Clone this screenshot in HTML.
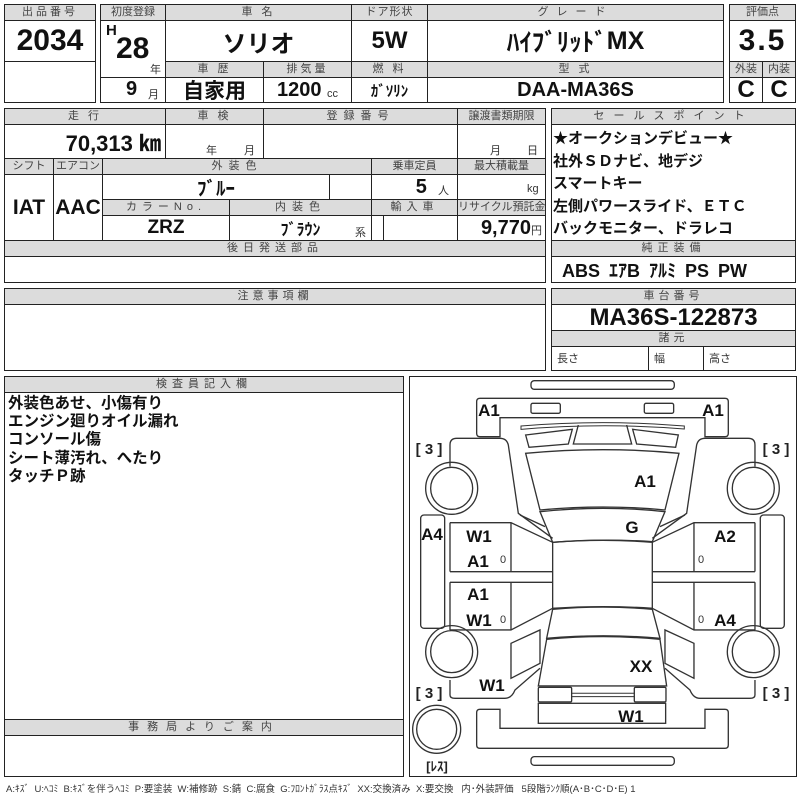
<!DOCTYPE html>
<html><head><meta charset="utf-8"><style>
body{margin:0;width:800px;height:800px;background:#fff;position:relative;overflow:hidden;font-family:"Liberation Sans Narrow","Liberation Sans","Noto Sans CJK JP",sans-serif;}
.c{position:absolute;box-sizing:border-box;border:1px solid #222;}
.h{background:#dcdcdc;color:#444;font-size:11px;text-align:center;line-height:15px;letter-spacing:3px;font-family:"Liberation Sans","Noto Sans CJK JP",sans-serif;white-space:nowrap;overflow:hidden}
.v{display:flex;align-items:center;justify-content:center;font-weight:bold;color:#111;white-space:nowrap}
.t{position:absolute;white-space:nowrap;color:#111}
.s{font-size:11px;font-weight:normal;color:#333;font-family:"Liberation Sans","Noto Sans CJK JP",sans-serif}
.lab{font-family:"Liberation Sans Narrow","Liberation Sans",sans-serif;font-weight:bold;font-size:52px;fill:#111}
</style></head><body>
<!-- block 1 -->
<div class="c h" style="left:4px;top:4px;width:92px;height:17px">出品番号</div>
<div class="c v" style="left:4px;top:20px;width:92px;height:42px;font-size:30px">2034</div>
<div class="c" style="left:4px;top:61px;width:92px;height:42px"></div>
<!-- block 2 -->
<div class="c h" style="left:100px;top:4px;width:66px;height:17px;letter-spacing:0">初度登録</div>
<div class="c" style="left:100px;top:20px;width:66px;height:58px"></div>
<div class="t" style="left:106px;top:22px;font-weight:bold;font-size:15px">H</div>
<div class="t" style="left:116px;top:32px;font-weight:bold;font-size:30px">28</div>
<div class="t s" style="left:150px;top:61px">年</div>
<div class="c" style="left:100px;top:77px;width:66px;height:26px"></div>
<div class="t" style="left:126px;top:78px;font-weight:bold;font-size:20px">9</div>
<div class="t s" style="left:148px;top:86px">月</div>
<div class="c h" style="left:165px;top:4px;width:187px;height:17px">車 名</div>
<div class="c v" style="left:165px;top:20px;width:187px;height:42px;font-size:24px;font-family:'Noto Sans CJK JP',sans-serif">ソリオ</div>
<div class="c h" style="left:165px;top:61px;width:99px;height:17px">車 歴</div>
<div class="c v" style="left:165px;top:77px;width:99px;height:26px;font-size:21px;font-family:'Noto Sans CJK JP',sans-serif">自家用</div>
<div class="c h" style="left:263px;top:61px;width:89px;height:17px">排気量</div>
<div class="c v" style="left:263px;top:77px;width:89px;height:26px;font-size:20px">1200&nbsp;<span class="s" style="margin-top:8px">cc</span></div>
<div class="c h" style="left:351px;top:4px;width:77px;height:17px;letter-spacing:1px">ドア形状</div>
<div class="c v" style="left:351px;top:20px;width:77px;height:42px;font-size:24px">5W</div>
<div class="c h" style="left:351px;top:61px;width:77px;height:17px">燃 料</div>
<div class="c v" style="left:351px;top:77px;width:77px;height:26px;font-size:15px;font-family:'Noto Sans CJK JP',sans-serif">ｶﾞｿﾘﾝ</div>
<div class="c h" style="left:427px;top:4px;width:297px;height:17px;letter-spacing:8px">グレード</div>
<div class="c v" style="left:427px;top:20px;width:297px;height:42px;font-size:25px;font-family:'Noto Sans CJK JP',sans-serif">ﾊｲﾌﾞﾘｯﾄﾞ<span style="font-family:'Liberation Sans Narrow','Liberation Sans',sans-serif">MX</span></div>
<div class="c h" style="left:427px;top:61px;width:297px;height:17px">型 式</div>
<div class="c v" style="left:427px;top:77px;width:297px;height:26px;font-size:20px">DAA-MA36S</div>
<!-- score -->
<div class="c h" style="left:729px;top:4px;width:67px;height:17px;letter-spacing:0">評価点</div>
<div class="c v" style="left:729px;top:20px;width:67px;height:42px;font-size:30px;letter-spacing:2px">3.5</div>
<div class="c h" style="left:729px;top:61px;width:34px;height:17px;letter-spacing:0">外装</div>
<div class="c h" style="left:762px;top:61px;width:34px;height:17px;letter-spacing:0">内装</div>
<div class="c v" style="left:729px;top:77px;width:34px;height:26px;font-size:24px">C</div>
<div class="c v" style="left:762px;top:77px;width:34px;height:26px;font-size:24px">C</div>
<!-- block 3 -->
<div class="c h" style="left:4px;top:108px;width:162px;height:17px">走 行</div>
<div class="c v" style="left:4px;top:124px;width:162px;height:35px;font-size:22px;justify-content:flex-end;padding-right:4px">70,313 ㎞</div>
<div class="c h" style="left:165px;top:108px;width:99px;height:17px">車 検</div>
<div class="c" style="left:165px;top:124px;width:99px;height:35px"></div>
<div class="t s" style="left:206px;top:142px">年</div><div class="t s" style="left:244px;top:142px">月</div>
<div class="c h" style="left:263px;top:108px;width:195px;height:17px;letter-spacing:6px">登録番号</div>
<div class="c" style="left:263px;top:124px;width:195px;height:35px"></div>
<div class="c h" style="left:457px;top:108px;width:89px;height:17px;letter-spacing:0">譲渡書類期限</div>
<div class="c" style="left:457px;top:124px;width:89px;height:35px"></div>
<div class="t s" style="left:490px;top:142px">月</div><div class="t s" style="left:527px;top:142px">日</div>
<div class="c h" style="left:4px;top:158px;width:50px;height:17px;letter-spacing:0">シフト</div>
<div class="c h" style="left:53px;top:158px;width:50px;height:17px;letter-spacing:0">エアコン</div>
<div class="c h" style="left:102px;top:158px;width:270px;height:17px;letter-spacing:6px">外装色</div>
<div class="c h" style="left:371px;top:158px;width:87px;height:17px;letter-spacing:0">乗車定員</div>
<div class="c h" style="left:457px;top:158px;width:89px;height:17px;letter-spacing:0">最大積載量</div>
<div class="c v" style="left:4px;top:174px;width:50px;height:67px;font-size:21px">IAT</div>
<div class="c v" style="left:53px;top:174px;width:50px;height:67px;font-size:21px">AAC</div>
<div class="c v" style="left:102px;top:174px;width:228px;height:26px;font-size:19px;font-family:'Noto Sans CJK JP',sans-serif">ﾌﾞﾙｰ</div>
<div class="c" style="left:329px;top:174px;width:43px;height:26px"></div>
<div class="c v" style="left:371px;top:174px;width:87px;height:26px;font-size:20px;justify-content:flex-end;padding-right:8px">5&nbsp;&nbsp;<span class="s" style="margin-top:6px">人</span></div>
<div class="c" style="left:457px;top:174px;width:89px;height:26px"></div>
<div class="t s" style="left:527px;top:183px">kg</div>
<div class="c h" style="left:102px;top:199px;width:128px;height:17px;letter-spacing:5px">カラーNo.</div>
<div class="c h" style="left:229px;top:199px;width:143px;height:17px;letter-spacing:6px">内装色</div>
<div class="c h" style="left:371px;top:199px;width:87px;height:17px;letter-spacing:5px">輸入車</div>
<div class="c h" style="left:457px;top:199px;width:89px;height:17px;letter-spacing:0">リサイクル預託金</div>
<div class="c v" style="left:102px;top:215px;width:128px;height:26px;font-size:19px">ZRZ</div>
<div class="c v" style="left:229px;top:215px;width:143px;height:26px;font-size:16px;font-family:'Noto Sans CJK JP',sans-serif">ﾌﾞﾗｳﾝ</div>
<div class="t s" style="left:355px;top:224px">系</div>
<div class="c" style="left:371px;top:215px;width:13px;height:26px"></div>
<div class="c" style="left:383px;top:215px;width:75px;height:26px"></div>
<div class="c v" style="left:457px;top:215px;width:89px;height:26px;font-size:20px;justify-content:flex-end;padding-right:3px">9,770<span class="s" style="margin-top:4px">円</span></div>
<div class="c h" style="left:4px;top:240px;width:542px;height:17px;letter-spacing:5px">後日発送部品</div>
<div class="c" style="left:4px;top:256px;width:542px;height:27px"></div>
<!-- sales -->
<div class="c h" style="left:551px;top:108px;width:245px;height:17px;letter-spacing:9px">セールスポイント</div>
<div class="c" style="left:551px;top:124px;width:245px;height:117px;font-family:'Noto Sans CJK JP',sans-serif;font-weight:bold;font-size:15px;line-height:22.5px;padding:2px 0 0 1px;color:#111">★オークションデビュー★<br>社外ＳＤナビ、地デジ<br>スマートキー<br>左側パワースライド、ＥＴＣ<br>バックモニター、ドラレコ</div>
<div class="c h" style="left:551px;top:240px;width:245px;height:17px;letter-spacing:5px">純正装備</div>
<div class="c v" style="left:551px;top:256px;width:245px;height:27px;font-size:18px;justify-content:flex-start;padding-left:10px;word-spacing:4px">ABS ｴｱB ｱﾙﾐ PS PW</div>
<!-- notes -->
<div class="c h" style="left:4px;top:288px;width:542px;height:17px;letter-spacing:4px">注意事項欄</div>
<div class="c" style="left:4px;top:304px;width:542px;height:67px"></div>
<div class="c h" style="left:551px;top:288px;width:245px;height:17px;letter-spacing:4px">車台番号</div>
<div class="c v" style="left:551px;top:304px;width:245px;height:27px;font-size:24px">MA36S-122873</div>
<div class="c h" style="left:551px;top:330px;width:245px;height:17px;letter-spacing:4px">諸元</div>
<div class="c s" style="left:551px;top:346px;width:98px;height:25px;line-height:25px;padding-left:5px">長さ</div>
<div class="c s" style="left:648px;top:346px;width:56px;height:25px;line-height:25px;padding-left:5px">幅</div>
<div class="c s" style="left:703px;top:346px;width:93px;height:25px;line-height:25px;padding-left:5px">高さ</div>
<!-- inspector -->
<div class="c" style="left:4px;top:376px;width:400px;height:401px"></div>
<div class="c h" style="left:4px;top:376px;width:400px;height:17px;letter-spacing:5px">検査員記入欄</div>
<div class="t" style="left:8px;top:393px;font-family:'Noto Sans CJK JP',sans-serif;font-weight:bold;font-size:15.5px;line-height:18.2px">外装色あせ、小傷有り<br>エンジン廻りオイル漏れ<br>コンソール傷<br>シート薄汚れ、へたり<br>タッチＰ跡</div>
<div class="c h" style="left:4px;top:719px;width:400px;height:17px;letter-spacing:8px">事務局よりご案内</div>
<!-- diagram -->
<div class="c" style="left:409px;top:376px;width:388px;height:401px"></div>
<svg style="position:absolute;left:0;top:0" width="800" height="800">
<g transform="translate(405,370) scale(0.3333)" fill="none" stroke="#333" stroke-width="4">
<rect x="378" y="32" width="430" height="26" rx="10"/>
<rect x="378" y="1160" width="430" height="26" rx="10"/>
<path d="M225,85 L960,85 Q970,85 970,95 L970,190 Q970,200 960,200 L900,200 L900,143 L285,143 L285,200 L225,200 Q215,200 215,190 L215,95 Q215,85 225,85 Z"/>
<path d="M225,1018 L285,1018 L285,1075 L900,1075 L900,1018 L960,1018 Q970,1018 970,1028 L970,1125 Q970,1135 960,1135 L225,1135 Q215,1135 215,1125 L215,1028 Q215,1018 225,1018 Z"/>
<rect x="378" y="100" width="88" height="30" rx="5"/>
<rect x="718" y="100" width="88" height="30" rx="5"/>
<path d="M348,168 Q595,148 838,168 L838,177 Q595,157 348,178 Z" stroke-width="3"/>
<path d="M362,195 L502,178 L490,222 L372,232 Z"/>
<path d="M683,178 L820,195 L812,232 L695,222 Z"/>
<path d="M520,165 L505,222 L680,222 L665,165"/>
<path d="M362,250 Q595,228 822,250 L780,420 Q595,402 405,420 Z"/>
<path d="M405,425 Q595,405 780,425 L742,515 Q595,505 443,517 Z"/>
<path d="M443,517 Q595,505 742,517 L742,715 Q595,705 443,715 Z"/>
<path d="M443,718 Q595,705 742,718 L765,805 Q595,790 425,805 Z"/>
<path d="M425,808 Q595,792 765,808 L785,948 L400,948 Z"/>
<rect x="400" y="952" width="100" height="44" rx="4"/>
<rect x="688" y="952" width="95" height="44" rx="4"/>
<path d="M500,970 L688,970 M500,980 L688,980" stroke-width="3"/>
<rect x="400" y="1000" width="382" height="60"/>
<g id="side">
<path d="M135,290 L135,225 Q135,205 155,205 L285,205 Q305,205 310,225 L340,430 L443,505"/>
<path d="M345,435 L420,470"/>
<path d="M135,458 L318,458 L443,517 M135,605 L443,605 M135,637 L443,637 M135,780 L318,780 L443,715 M135,458 L135,605 M135,637 L135,780 M318,458 L318,605 M318,637 L318,780"/>
<path d="M318,820 L405,780 L405,880 L318,925 Z"/>
<path d="M135,930 L135,975 Q135,985 150,985 L300,985 Q320,985 330,960 L405,895"/>
<rect x="47" y="435" width="72" height="340" rx="10"/>
<circle cx="140" cy="355" r="78"/><circle cx="140" cy="355" r="63"/>
<circle cx="140" cy="845" r="78"/><circle cx="140" cy="845" r="63"/>
</g>
<use href="#side" transform="translate(1185,0) scale(-1,1)"/>
<circle cx="95" cy="1078" r="72"/><circle cx="95" cy="1078" r="60"/>
</g>
<g class="lab" style="font-size:17px" text-anchor="middle">
<text x="489" y="416">A1</text><text x="713" y="416">A1</text>
<text x="645" y="487">A1</text><text x="632" y="533">G</text>
<text x="432" y="540">A4</text><text x="479" y="542">W1</text><text x="478" y="567">A1</text>
<text x="725" y="542">A2</text><text x="478" y="600">A1</text><text x="479" y="626">W1</text>
<text x="725" y="626">A4</text><text x="641" y="672">XX</text><text x="492" y="691">W1</text>
<text x="631" y="722">W1</text>
</g>
<g style="font-family:'Liberation Sans Narrow','Liberation Sans',sans-serif;font-size:11px;fill:#333" text-anchor="middle">
<text x="503" y="563">0</text><text x="701" y="563">0</text><text x="503" y="623">0</text><text x="701" y="623">0</text>
</g>
<g style="font-family:'Liberation Sans','Noto Sans CJK JP',sans-serif;font-size:15px;font-weight:bold;fill:#222" text-anchor="middle">
<text x="429" y="454" xml:space="preserve">[ 3 ]</text><text x="776" y="454" xml:space="preserve">[ 3 ]</text>
<text x="429" y="698" xml:space="preserve">[ 3 ]</text><text x="776" y="698" xml:space="preserve">[ 3 ]</text>
<text x="437" y="771" style="font-size:13px">[ﾚｽ]</text>
</g>
</svg>
<div class="t" style="left:6px;top:781px;font-size:9.5px;color:#333;font-family:'Liberation Sans Narrow','Liberation Sans','Noto Sans CJK JP',sans-serif">A:ｷｽﾞ&nbsp; U:ﾍｺﾐ&nbsp; B:ｷｽﾞを伴うﾍｺﾐ&nbsp; P:要塗装&nbsp; W:補修跡&nbsp; S:錆&nbsp; C:腐食&nbsp; G:ﾌﾛﾝﾄｶﾞﾗｽ点ｷｽﾞ&nbsp; XX:交換済み&nbsp; X:要交換&nbsp;&nbsp; 内･外装評価&nbsp;&nbsp; 5段階ﾗﾝｸ順(A･B･C･D･E) 1</div>
</body></html>
